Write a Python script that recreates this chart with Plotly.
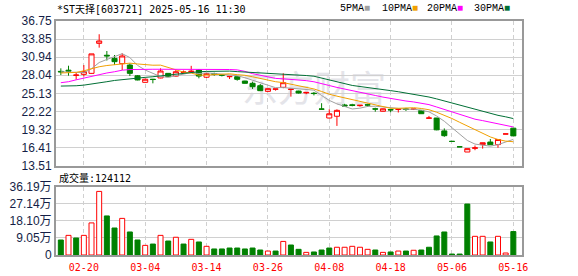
import plotly.graph_objects as go

# ---------------- data ----------------
dates = [
    "2025-02-17", "2025-02-18", "2025-02-19", "2025-02-20", "2025-02-21",
    "2025-02-24", "2025-02-25", "2025-02-26", "2025-02-27", "2025-02-28",
    "2025-03-03", "2025-03-04", "2025-03-05", "2025-03-06", "2025-03-07",
    "2025-03-10", "2025-03-11", "2025-03-12", "2025-03-13", "2025-03-14",
    "2025-03-17", "2025-03-18", "2025-03-19", "2025-03-20", "2025-03-21",
    "2025-03-24", "2025-03-25", "2025-03-26", "2025-03-27", "2025-03-28",
    "2025-03-31", "2025-04-01", "2025-04-02", "2025-04-03", "2025-04-07",
    "2025-04-08", "2025-04-09", "2025-04-10", "2025-04-11", "2025-04-14",
    "2025-04-15", "2025-04-16", "2025-04-17", "2025-04-18", "2025-04-21",
    "2025-04-22", "2025-04-23", "2025-04-24", "2025-04-25", "2025-04-28",
    "2025-04-29", "2025-05-06", "2025-05-07", "2025-05-08", "2025-05-09",
    "2025-05-12", "2025-05-13", "2025-05-14", "2025-05-15", "2025-05-16",
]

opens = [28.66, 28.85, 28.02, 28.18, 28.34, 33.16, 31.25, 30.75, 29.90, 29.68,
         27.95, 26.90, 27.40, 27.60, 28.34, 27.90, 28.50, 28.60, 28.88, 27.72,
         28.30, 28.15, 27.80, 27.81, 27.11, 26.74, 26.36, 25.45, 25.80, 26.10,
         25.76, 25.50, 25.20, 25.15, 22.62, 21.17, 21.45, 23.26, 23.30, 23.15,
         23.30, 22.65, 22.25, 22.52, 22.55, 22.62, 22.55, 22.40, 21.13, 21.17,
         19.10, 17.42, 16.55, 15.71, 16.30, 16.90, 17.31, 16.90, 18.60, 19.54]
highs = [29.15, 29.57, 28.50, 29.68, 31.47, 34.62, 31.93, 31.29, 31.56, 29.95,
         28.07, 27.50, 27.45, 29.15, 28.40, 28.90, 28.80, 29.55, 29.04, 28.40,
         28.45, 28.20, 27.90, 27.85, 27.15, 27.00, 26.63, 25.95, 25.85, 28.35,
         25.85, 25.55, 25.30, 25.35, 23.55, 22.57, 22.56, 23.45, 23.45, 23.25,
         23.45, 22.82, 22.70, 22.55, 22.62, 22.80, 22.62, 22.42, 21.50, 21.17,
         19.50, 17.42, 16.55, 16.25, 16.75, 17.22, 17.80, 17.72, 18.61, 19.54]
lows = [28.07, 27.97, 27.33, 27.81, 28.30, 32.47, 30.40, 29.68, 28.88, 27.91,
        27.22, 26.85, 26.74, 27.55, 27.75, 27.80, 28.40, 28.55, 27.54, 27.60,
        27.95, 27.85, 27.43, 27.17, 26.70, 25.83, 25.50, 25.40, 25.56, 25.95,
        24.60, 25.10, 25.00, 24.80, 22.59, 21.10, 19.90, 22.95, 23.05, 22.99,
        22.99, 22.18, 22.20, 22.10, 22.05, 22.30, 22.45, 21.85, 21.13, 19.20,
        18.15, 17.41, 16.54, 15.71, 16.00, 16.25, 16.85, 16.40, 18.60, 18.28]
closes = [28.58, 28.70, 28.07, 28.61, 31.47, 33.54, 31.15, 30.22, 31.13, 28.34,
          27.28, 27.40, 27.35, 28.72, 27.81, 28.60, 28.55, 28.68, 27.90, 28.30,
          28.20, 28.05, 27.85, 27.38, 26.74, 26.20, 25.56, 25.88, 25.83, 26.84,
          25.80, 25.18, 25.28, 25.10, 22.59, 21.85, 22.40, 23.10, 23.18, 23.22,
          23.25, 22.60, 22.65, 22.47, 22.60, 22.56, 22.60, 21.86, 21.17, 19.27,
          18.33, 17.41, 16.54, 16.25, 16.38, 17.20, 16.88, 17.72, 18.61, 18.30]
prev_close_before_first = 28.90

ma5 = [28.60, 28.55, 28.45, 28.45, 29.09, 30.08, 30.57, 31.00, 31.50, 30.88,
       29.62, 28.87, 28.30, 27.82, 27.71, 27.98, 28.21, 28.47, 28.31, 28.41,
       28.33, 28.23, 28.06, 27.96, 27.64, 27.24, 26.75, 26.35, 26.04, 26.06,
       25.98, 25.91, 25.79, 25.64, 24.79, 24.00, 23.44, 23.01, 22.62, 22.75,
       23.03, 23.07, 22.98, 22.84, 22.71, 22.58, 22.58, 22.42, 22.16, 21.49,
       20.65, 19.61, 18.54, 17.56, 16.98, 16.76, 16.65, 16.89, 17.36, 17.74]
ma10 = [28.40, 28.45, 28.50, 28.75, 29.10, 29.40, 29.60, 29.75, 29.90, 29.98,
        29.85, 29.72, 29.65, 29.66, 29.29, 28.80, 28.54, 28.39, 28.06, 28.06,
        28.15, 28.22, 28.27, 28.13, 28.03, 27.79, 27.49, 27.21, 27.00, 26.85,
        26.61, 26.33, 26.07, 25.84, 25.43, 24.99, 24.68, 24.40, 24.13, 23.77,
        23.52, 23.26, 22.99, 22.73, 22.73, 22.80, 22.82, 22.70, 22.50, 22.10,
        21.61, 21.09, 20.48, 19.86, 19.24, 18.70, 18.13, 17.72, 17.46, 17.36]
ma20 = [26.84, 27.00, 27.30, 27.60, 27.85, 28.10, 28.40, 28.60, 28.85, 28.95,
        29.00, 29.00, 29.00, 29.00, 29.00, 29.05, 29.05, 29.05, 29.05, 29.02,
        29.00, 28.97, 28.96, 28.90, 28.66, 28.29, 28.01, 27.80, 27.53, 27.46,
        27.38, 27.27, 27.17, 26.99, 26.73, 26.39, 26.08, 25.80, 25.57, 25.31,
        25.06, 24.79, 24.53, 24.29, 24.08, 23.90, 23.75, 23.55, 23.32, 22.94,
        22.56, 22.17, 21.74, 21.30, 20.98, 20.75, 20.48, 20.21, 19.98, 19.73]
ma30 = [26.30, 26.30, 26.35, 26.45, 26.60, 26.80, 27.00, 27.20, 27.35, 27.50,
        27.60, 27.70, 27.80, 27.95, 28.10, 28.25, 28.40, 28.50, 28.60, 28.65,
        28.70, 28.72, 28.70, 28.62, 28.55, 28.50, 28.45, 28.40, 28.35, 28.30,
        28.21, 28.09, 27.99, 27.88, 27.58, 27.19, 26.90, 26.66, 26.40, 26.23,
        26.09, 25.93, 25.78, 25.57, 25.39, 25.19, 24.99, 24.77, 24.54, 24.24,
        23.91, 23.56, 23.18, 22.81, 22.47, 22.17, 21.88, 21.60, 21.36, 21.08]

volumes_wan = [7.95, 10.4, 9.0, 10.4, 17.0, 33.7, 20.7, 14.3, 19.4, 12.2,
               7.95, 5.1, 5.8, 10.4, 7.4, 9.4, 5.8, 8.3, 6.9, 4.6,
               3.2, 3.2, 3.7, 3.7, 3.2, 3.7, 2.65, 2.1, 2.1, 7.2,
               5.3, 3.0, 1.4, 1.6, 2.65, 3.7, 4.1, 4.1, 4.6, 4.1,
               3.0, 2.65, 1.4, 1.6, 2.1, 2.1, 2.5, 2.65, 4.1, 10.1,
               12.2, 0.5, 0.5, 27.0, 9.9, 9.9, 6.9, 9.9, 1.06, 12.41]

price_ticks = [36.75, 33.85, 30.94, 28.04, 25.13, 22.22, 19.32, 16.41, 13.51]
price_tick_labels = ["36.75", "33.85", "30.94", "28.04", "25.13", "22.22", "19.32", "16.41", "13.51"]
vol_ticks = [36.19, 27.14, 18.10, 9.05, 0]
vol_tick_labels = ["36.19万", "27.14万", "18.10万", "9.05万", "0"]
date_ticks = ["2025-02-20", "2025-03-04", "2025-03-14", "2025-03-26",
              "2025-04-08", "2025-04-18", "2025-05-06", "2025-05-16"]
date_tick_labels = ["02-20", "03-04", "03-14", "03-26", "04-08", "04-18", "05-06", "05-16"]

title_text = "*ST天择[603721] 2025-05-16 11:30"
volume_label = "成交量:124112"
ma_names = ["5PMA", "10PMA", "20PMA", "30PMA"]

# ---------------- style ----------------
RED = "#ff0000"
GREEN = "#008000"
MA_COLORS = ["#a0a0a0", "#f0a000", "#ff00ff", "#006f35"]
GRID = "#d0d0d0"
BORDER = "#999999"
LABEL = "#141e46"
MONO = "DejaVu Sans Mono, Noto Sans CJK SC"

# volume colours: up vs previous close -> red hollow, else green filled
prevs = [prev_close_before_first] + closes[:-1]
vol_fill = ["#ffffff" if c > p else GREEN for c, p in zip(closes, prevs)]
vol_line = [RED if c > p else GREEN for c, p in zip(closes, prevs)]

fig = go.Figure()

fig.add_trace(go.Candlestick(
    x=dates, open=opens, high=highs, low=lows, close=closes,
    increasing=dict(line=dict(color=RED, width=1), fillcolor="#ffffff"),
    decreasing=dict(line=dict(color=GREEN, width=1), fillcolor=GREEN),
    whiskerwidth=0, hoverinfo="skip", xaxis="x", yaxis="y",
))
for series, col in zip([ma5, ma10, ma20, ma30], MA_COLORS):
    fig.add_trace(go.Scatter(x=dates, y=series, mode="lines",
                             line=dict(color=col, width=1),
                             hoverinfo="skip", xaxis="x", yaxis="y"))

fig.add_trace(go.Bar(
    x=dates, y=volumes_wan,
    marker=dict(color=vol_fill, line=dict(color=vol_line, width=1)),
    hoverinfo="skip", xaxis="x2", yaxis="y2",
))

W, H = 578, 276
L, R, T, B = 56, 56, 21, 21
PW, PH = W - L - R, H - T - B


def px_x(px):
    return (px - L) / PW


def px_y(py):
    return (H - B - py) / PH


axis_common = dict(
    showline=True, mirror=True, linecolor=BORDER, linewidth=2,
    zeroline=False, ticks="", automargin=False,
)

fig.update_layout(
    width=W, height=H,
    margin=dict(l=L, r=R, t=T, b=B, pad=0, autoexpand=False),
    paper_bgcolor="white", plot_bgcolor="white",
    showlegend=False, hovermode=False,
    bargap=0.35, boxgap=0.34, boxgroupgap=0,
    xaxis=dict(
        domain=[0, 1], anchor="y", type="category",
        categoryorder="array", categoryarray=dates,
        range=[-0.63, 60.13], tickvals=date_ticks, ticktext=date_tick_labels,
        showticklabels=False, showgrid=True, gridcolor=GRID, gridwidth=1,
        griddash="4px,3px", rangeslider=dict(visible=False), **axis_common,
    ),
    yaxis=dict(
        domain=[px_y(165.7), 1], anchor="x", range=[13.51, 36.75],
        tickvals=price_ticks, ticktext=price_tick_labels,
        showgrid=True, gridcolor=GRID, gridwidth=1,
        tickfont=dict(family="Liberation Sans, Arial", size=12, color=LABEL),
        **axis_common,
    ),
    xaxis2=dict(
        domain=[0, 1], anchor="y2", type="category",
        categoryorder="array", categoryarray=dates, matches="x",
        range=[-0.63, 60.13], tickvals=date_ticks, ticktext=date_tick_labels,
        showgrid=True, gridcolor=GRID, gridwidth=1, griddash="4px,3px",
        tickfont=dict(family=MONO, size=10, color=RED),
        ticklabelstandoff=2,
        **axis_common,
    ),
    yaxis2=dict(
        domain=[0, px_y(186.7)], anchor="x2", range=[0, 36.19],
        tickvals=vol_ticks, ticktext=vol_tick_labels,
        showgrid=True, gridcolor=GRID, gridwidth=1,
        tickfont=dict(family="Liberation Sans, Arial, Noto Sans CJK SC", size=12, color=LABEL),
        **axis_common,
    ),
)

annotations = [
    dict(text=title_text, x=px_x(55), y=px_y(9), xref="paper", yref="paper",
         xanchor="left", yanchor="middle", showarrow=False,
         font=dict(family=MONO, size=10, color="#000000")),
    dict(text=volume_label, x=px_x(57), y=px_y(178), xref="paper", yref="paper",
         xanchor="left", yanchor="middle", showarrow=False,
         font=dict(family=MONO, size=10, color="#000000")),
]
legend_x = [338, 380, 425, 472]
for name, col, lx in zip(ma_names, MA_COLORS, legend_x):
    annotations.append(dict(
        text=name + '<span style="color:%s">■</span>' % col,
        x=px_x(lx), y=px_y(9), xref="paper", yref="paper",
        xanchor="left", yanchor="middle", showarrow=False,
        font=dict(family="Liberation Mono, DejaVu Sans Mono", size=10, color="#000000"),
    ))
fig.update_layout(annotations=annotations)

# faint watermark behind the candles
fig.add_shape(
    type="rect", xref="paper", yref="paper",
    x0=px_x(236), x1=px_x(392), y0=px_y(112), y1=px_y(72),
    line=dict(width=0), fillcolor="rgba(0,0,0,0)", layer="below",
    label=dict(text="东方财富", textposition="middle center",
               font=dict(family="Noto Sans CJK SC", size=36, color="#e4e4e9")),
)

fig.write_html("out.html")
